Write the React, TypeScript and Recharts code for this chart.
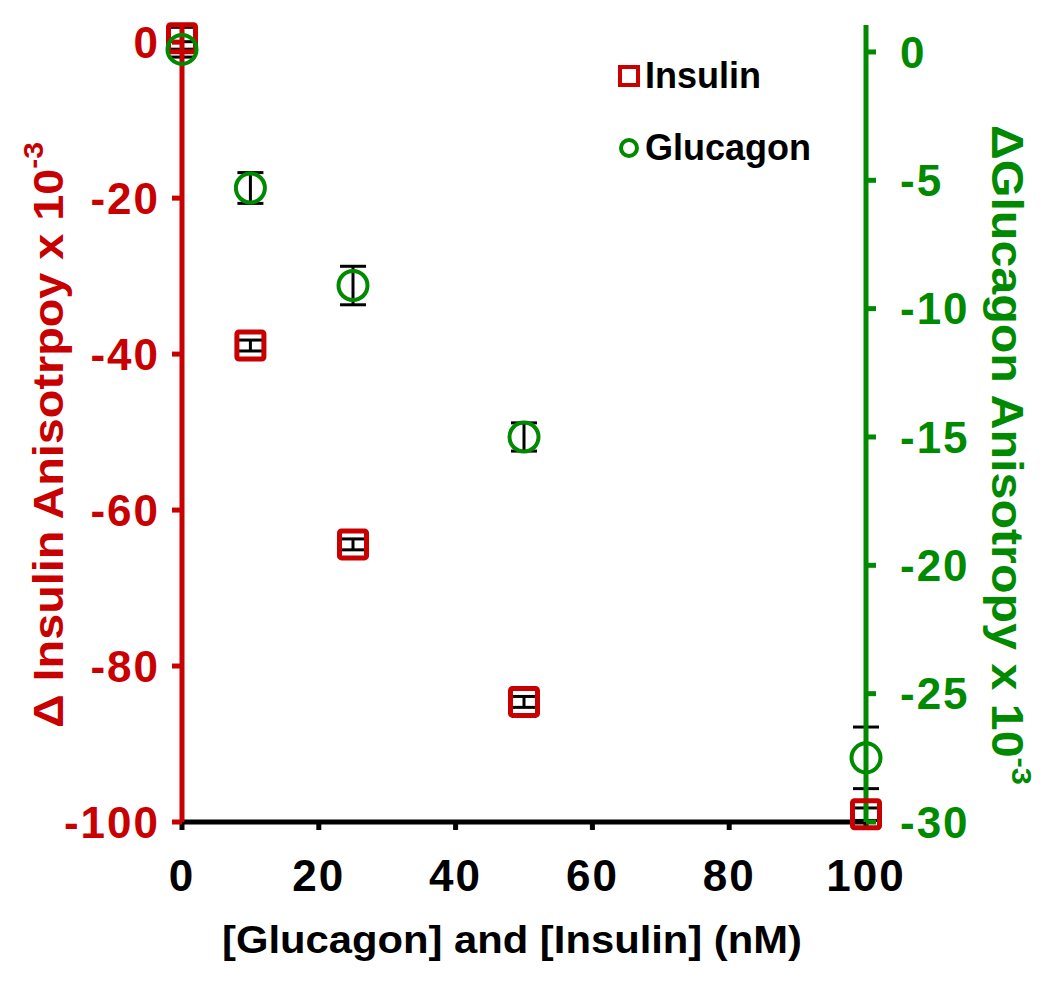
import { ComposedChart, Scatter, XAxis, YAxis, ErrorBar, Legend } from 'recharts';

const concentrations = [0, 10, 25, 50, 100];
const insulinDelta = [0.5, -38.9, -64.4, -84.6, -99.0];
const insulinErr = [1.4, 0.7, 0.7, 0.7, 0.8];
const glucagonDelta = [0.1, -5.3, -9.1, -15.0, -27.5];
const glucagonErr = [0.3, 0.6, 0.75, 0.55, 1.2];

const xTicks = [0, 20, 40, 60, 80, 100];
const insulinTicks = [0, -20, -40, -60, -80, -100];
const glucagonTicks = [0, -5, -10, -15, -20, -25, -30];

const RED = '#c80000';
const GREEN = '#008a00';
const FONT = '"Liberation Sans", Arial, sans-serif';

const insulinData = concentrations.map((x, i) => ({ x, y: insulinDelta[i], err: insulinErr[i] }));
const glucagonData = concentrations.map((x, i) => ({ x, y: glucagonDelta[i], err: glucagonErr[i] }));

const SquareMark = (props: any) => {
  const { cx, cy } = props;
  return <rect x={cx - 13.5} y={cy - 13.5} width={27} height={27} fill="none" stroke={RED} strokeWidth={5} rx={2} />;
};

const CircleMark = (props: any) => {
  const { cx, cy } = props;
  return <circle cx={cx} cy={cy} r={14.5} fill="none" stroke={GREEN} strokeWidth={4} />;
};

const LeftTitle = (props: any) => {
  const vb = props.viewBox;
  const cx = vb.x + 48;
  const cy = 435;
  return (
    <text x={cx} y={cy} transform={`rotate(-90 ${cx} ${cy})`} textAnchor="middle" dominantBaseline="central"
      fill={RED} fontSize={42} fontWeight="bold" fontFamily={FONT} textLength={586} lengthAdjust="spacingAndGlyphs">
      Δ Insulin Anisotrpoy x 10<tspan fontSize={27} dy={-14}>-3</tspan>
    </text>
  );
};

const RightTitle = (props: any) => {
  const vb = props.viewBox;
  const cx = vb.x + vb.width - 43;
  const cy = 455;
  return (
    <text x={cx} y={cy} transform={`rotate(90 ${cx} ${cy})`} textAnchor="middle" dominantBaseline="central"
      fill={GREEN} fontSize={44} fontWeight="bold" fontFamily={FONT} textLength={660} lengthAdjust="spacingAndGlyphs">
      ΔGlucagon Anisotropy x 10<tspan fontSize={28} dy={-15}>-3</tspan>
    </text>
  );
};

const BottomTitle = (props: any) => {
  const vb = props.viewBox;
  return (
    <text x={512} y={vb.y + 118} textAnchor="middle" dominantBaseline="central"
      fill="#000" fontSize={38} fontWeight="bold" fontFamily={FONT} textLength={580} lengthAdjust="spacingAndGlyphs">
      [Glucagon] and [Insulin] (nM)
    </text>
  );
};

const LegendBox = () => (
  <div style={{ fontFamily: FONT, fontWeight: 'bold', fontSize: 36, color: '#000', lineHeight: '72px' }}>
    <div style={{ display: 'flex', alignItems: 'center' }}>
      <svg width={22} height={22} style={{ marginRight: 5 }}>
        <rect x={2} y={2} width={18} height={18} fill="none" stroke={RED} strokeWidth={4} />
      </svg>
      Insulin
    </div>
    <div style={{ display: 'flex', alignItems: 'center' }}>
      <svg width={22} height={22} style={{ marginRight: 5 }}>
        <circle cx={11} cy={11} r={8} fill="none" stroke={GREEN} strokeWidth={4} />
      </svg>
      Glucagon
    </div>
  </div>
);

const tickStyle = (fill: string) => ({ fill, fontSize: 44, fontWeight: 'bold', fontFamily: FONT, letterSpacing: 2 });

export default function App() {
  return (
    <div style={{ margin: -8, background: '#fff', width: 1050, height: 983 }}>
      <ComposedChart width={1050} height={983} margin={{ top: 25, right: 0, bottom: 0, left: 0 }}>
        <XAxis
          type="number"
          dataKey="x"
          domain={[0, 100]}
          ticks={xTicks}
          height={161}
          axisLine={{ stroke: '#000', strokeWidth: 5 }}
          tickLine={{ stroke: '#000', strokeWidth: 5 }}
          tickSize={8}
          tickMargin={30}
          tick={tickStyle('#000')}
          label={<BottomTitle />}
        />
        <YAxis
          yAxisId="left"
          type="number"
          dataKey="y"
          domain={[-100, 2.2]}
          ticks={insulinTicks}
          width={182}
          axisLine={{ stroke: RED, strokeWidth: 5 }}
          tickLine={{ stroke: RED, strokeWidth: 5 }}
          tickSize={10}
          tickMargin={12}
          tick={tickStyle(RED)}
          label={<LeftTitle />}
        />
        <YAxis
          yAxisId="right"
          orientation="right"
          type="number"
          dataKey="y"
          domain={[-30, 1.05]}
          ticks={glucagonTicks}
          width={184}
          axisLine={{ stroke: GREEN, strokeWidth: 5 }}
          tickLine={{ stroke: GREEN, strokeWidth: 5 }}
          tickSize={10}
          tickMargin={24}
          tick={tickStyle(GREEN)}
          label={<RightTitle />}
        />
        <Legend
          layout="vertical"
          align="center"
          verticalAlign="middle"
          wrapperStyle={{ top: 40, left: 618, width: 260 }}
          content={<LegendBox />}
        />
        <Scatter name="Insulin" data={insulinData} dataKey="y" yAxisId="left" shape={<SquareMark />} isAnimationActive={false}>
          <ErrorBar dataKey="err" direction="y" stroke="#000" strokeWidth={3} width={13} isAnimationActive={false} />
        </Scatter>
        <Scatter name="Glucagon" data={glucagonData} dataKey="y" yAxisId="right" shape={<CircleMark />} isAnimationActive={false}>
          <ErrorBar dataKey="err" direction="y" stroke="#000" strokeWidth={3} width={13} isAnimationActive={false} />
        </Scatter>
      </ComposedChart>
    </div>
  );
}
